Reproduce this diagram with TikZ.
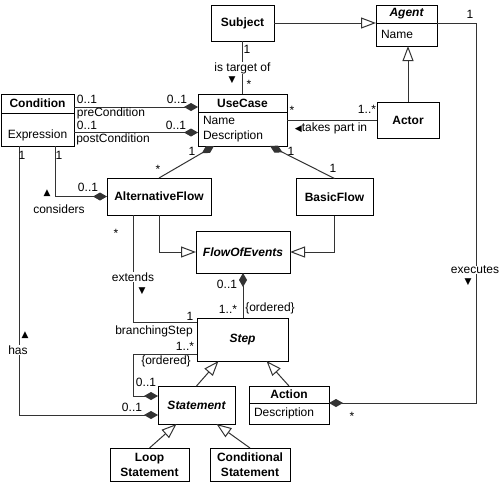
\documentclass[tikz,border=0pt]{standalone}
\usepackage{fontspec}
\setmainfont{Liberation Sans}
\newfontfamily\symfont{DejaVu Sans}
\usetikzlibrary{arrows.meta,positioning}

\begin{document}
\begin{tikzpicture}[x=1pt,y=-1pt,
 cls/.style={draw,fill=white,line width=1pt,inner sep=0pt,outer sep=0pt,align=center,font=\fontsize{12}{15}\selectfont\bfseries},
 abs/.style={cls,font=\fontsize{12}{15}\selectfont\bfseries\itshape},
 attr/.style={draw,fill=white,line width=1pt,inner ysep=0pt,inner xsep=5pt,outer sep=0pt,align=left,font=\fontsize{12}{15}\selectfont},
 lab/.style={inner sep=0.5pt,font=\fontsize{12}{15}\selectfont},
 dir/.style={inner sep=0pt,font=\symfont\fontsize{9}{9}\selectfont},
 conn/.style={draw=black!80,line width=1pt},
 gen/.style={conn,-{Triangle[open,length=15pt,width=11pt]}},
 comp/.style={conn,{Diamond[length=14pt,width=8pt]}-}]
\fill[white] (0,0) rectangle (500,485);

% classes
\node[cls,minimum width=63pt,minimum height=36pt] (Subject) at (242.5,23) {Subject};
\node[abs,minimum width=61pt,minimum height=18pt] (AgentHead) at (406.5,14) {Agent};
\node[attr,text width=51pt,minimum height=23pt,below=0pt of AgentHead] (AgentAttr) {Name};
\node[cls,minimum width=89pt,minimum height=18pt] (UseCase) at (242.5,103) {UseCase};
\node[attr,text width=79pt,minimum height=34pt,below=0pt of UseCase] (UseCaseAttr) {Name\\Description};
\node[cls,minimum width=73pt,minimum height=19pt] (ConditionHead) at (37.5,103.5) {Condition};
\node[attr,align=center,text width=63pt,minimum height=33pt,text height=19pt,text depth=2pt,below=0pt of ConditionHead] (ConditionAttr) {Expression};
\node[cls,minimum width=62pt,minimum height=36pt] (Actor) at (408,120) {Actor};
\node[cls,minimum width=104pt,minimum height=37pt] (AlternativeFlow) at (159,196.5) {AlternativeFlow};
\node[cls,minimum width=77pt,minimum height=37pt] (BasicFlow) at (334.5,197) {BasicFlow};
\node[abs,minimum width=94pt,minimum height=42pt] (FlowOfEvents) at (243,252) {FlowOfEvents};
\node[abs,minimum width=91pt,minimum height=43pt] (Step) at (242.5,339.5) {Step};
\node[abs,minimum width=77pt,minimum height=38pt] (Statement) at (196.5,405) {Statement};
\node[cls,minimum width=80pt,minimum height=17pt] (ActionHead) at (289,394.5) {Action};
\node[attr,text width=70pt,minimum height=21pt,below=0pt of ActionHead] (ActionAttr) {Description};
\node[cls,minimum width=79pt,minimum height=33pt] (LoopStatement) at (149.5,464.5) {Loop\\Statement};
\node[cls,minimum width=80pt,minimum height=33pt] (ConditionalStatement) at (250,464.5) {Conditional\\Statement};

% generalizations
\draw[gen] (Subject.east) -- (Subject.east -| AgentHead.west);
\draw[gen] (Actor.north) -- (Actor.north |- AgentAttr.south);
\draw[gen] (AlternativeFlow.south) |- (FlowOfEvents.west);
\draw[gen] (BasicFlow.south) |- (FlowOfEvents.east);
\draw[gen] (Statement.north) -- ([xshift=-24pt]Step.south);
\draw[gen] (ActionHead.north) -- ([xshift=24pt]Step.south);
\draw[gen] (LoopStatement.north) -- ([xshift=-20pt]Statement.south);
\draw[gen] (ConditionalStatement.north) -- ([xshift=20pt]Statement.south);

% associations
\draw[conn] (Subject.south) -- (UseCase.north);
\draw[conn] (Actor.west) -- (Actor.west -| UseCaseAttr.east);
\draw[conn] ([xshift=-26pt]AlternativeFlow.south) |- ([yshift=17.5pt]Step.west);
\draw[comp] ([yshift=-4pt]UseCase.west) -- ([yshift=-4pt]UseCase.west -| ConditionHead.east);
\draw[comp] ([yshift=-3.5pt]UseCaseAttr.west) -- ([yshift=-3.5pt]UseCaseAttr.west -| ConditionAttr.east);
\draw[comp] ([xshift=16pt]UseCaseAttr.south west) -- (AlternativeFlow.north);
\draw[comp] ([xshift=-17pt]UseCaseAttr.south east) -- (BasicFlow.north);
\draw[comp] (AlternativeFlow.west) -| ([xshift=17.5pt]ConditionAttr.south);
\draw[comp] ([yshift=-10pt]Statement.west) -| ([xshift=-18.5pt]ConditionAttr.south);
\draw[comp] (FlowOfEvents.south) -- (FlowOfEvents.south |- Step.north);
\draw[comp] ([yshift=9pt]Statement.west) -- ++(-25,0) |- ([yshift=-15pt]Step.west);
\draw[comp] (ActionHead.south east) -| ([xshift=39pt]AgentHead.south east) -- (AgentHead.south east);

% multiplicities and roles
\foreach \n/\x/\y/\t in {subjMult/247/49/1,ucMultA/249/84/*,preA/87/99/0..1,preRole/111/113/preCondition,
  preB/177/99/0..1,postA/87/125/0..1,postRole/113/139/postCondition,postB/176/125/0..1,
  ucMultB/292/110/*,actorMult/367/109/1..*,altOne/192/151/1,altMult/158/169/*,
  basicOneA/291/151/1,basicOneB/333/168/1,condOneA/22/155/1,condOneB/59/155/1,
  altCond/88/187/0..1,considers/59/209/considers,extMult/116/233/*,branchOne/190/316/1,
  branchRole/154/331/branchingStep,stepMultA/185/346/1..*,orderedA/166/361/{\{ordered\}},
  stmtMult/146/382/0..1,hasMult/132/407/0..1,flowMult/227/284/0..1,stepMultB/228/309/1..*,
  orderedB/270/308/{\{ordered\}},agentOne/470/14/1,actionMult/352/416/*}
 {\node[lab] (\n) at (\x,\y) {\t};}
\node[lab] (takesPart) at (331,128) {{\symfont\fontsize{9}{9}\selectfont ◀}takes part in};

% association names on the lines
\node[lab,fill=white] (targetOf) at (242.5,68) {is target of};
\node[lab,fill=white] (extends) at (133,277) {extends};
\node[lab,fill=white] (has) at (18,350) {has};
\node[lab,fill=white] (executes) at (475,270) {executes};
\node[dir] (targetDir) at (232,80) {▼};
\node[dir] (considersDir) at (47,193) {▲};
\node[dir] (extendsDir) at (142,291) {▼};
\node[dir] (hasDir) at (25,335) {▲};
\node[dir] (executesDir) at (468,282) {▼};
\end{tikzpicture}
\end{document}
